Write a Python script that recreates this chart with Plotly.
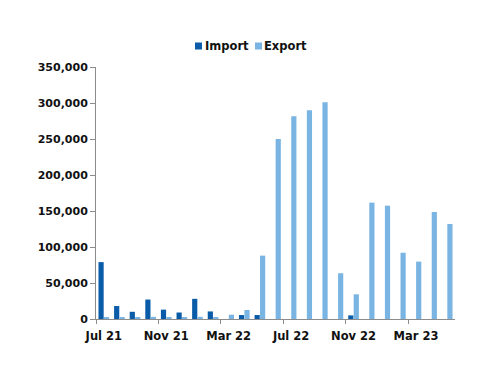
import plotly.graph_objects as go

months = ["Jul 21", "Aug 21", "Sep 21", "Oct 21", "Nov 21", "Dec 21",
          "Jan 22", "Feb 22", "Mar 22", "Apr 22", "May 22", "Jun 22",
          "Jul 22", "Aug 22", "Sep 22", "Oct 22", "Nov 22", "Dec 22",
          "Jan 23", "Feb 23", "Mar 23", "Apr 23", "May 23"]
imports = [79000, 18000, 10000, 27000, 13000, 9000, 28000, 10500, 0, 5500, 5500, 0,
           0, 0, 0, 0, 5000, 0, 0, 0, 0, 0, 0]
exports = [2500, 2500, 2500, 3000, 2500, 2500, 3000, 1500, 6000, 12500, 88000, 250000,
           281500, 290000, 301000, 63500, 34300, 161600, 157400, 92000, 79700, 148600, 132000]
tick_labels = months[::4]
y_ticks = [0, 50000, 100000, 150000, 200000, 250000, 300000, 350000]
series_names = ["Import", "Export"]
series_colors = ["#0A5BA8", "#79B4E2"]

FONT = dict(family="DejaVu Sans", size=11.5, color="#111111")
YFONT = dict(family="DejaVu Sans", size=11, color="#111111")

fig = go.Figure()
for name, vals, col in zip(series_names, [imports, exports], series_colors):
    fig.add_trace(go.Bar(name=name, x=months, y=vals,
                         marker=dict(color=col, line=dict(width=0))))

n = len(months)
fig.add_trace(go.Scatter(x=[-0.5], y=[0], xaxis="x2", mode="markers",
                         marker=dict(opacity=0), showlegend=False, hoverinfo="skip"))

# custom legend (swatch + label) to match compact spacing
sw_x = [0.2758, 0.4429]
txt_x = [0.2980, 0.4630]
shapes = []
annots = []
for sx, tx, name, col in zip(sw_x, txt_x, series_names, series_colors):
    shapes.append(dict(type="rect", xref="paper", yref="paper",
                       x0=sx, x1=sx + 0.0195, y0=1.0694, y1=1.0972,
                       fillcolor=col, line=dict(width=0)))
    annots.append(dict(xref="paper", yref="paper", x=tx, y=1.0833,
                       xanchor="left", yanchor="middle", showarrow=False,
                       text=f"<b>{name}</b>", font=FONT))

fig.update_layout(
    width=500, height=386,
    margin=dict(l=88, r=53, t=59, b=75),
    paper_bgcolor="white", plot_bgcolor="white",
    barmode="group", bargap=0.3, bargroupgap=0.05,
    font=FONT,
    showlegend=False,
    shapes=shapes,
    annotations=annots,
    xaxis=dict(type="category", categoryorder="array", categoryarray=months,
               range=[-0.5, n - 0.5], tickmode="array", tickvals=tick_labels,
               ticktext=[f"<b>{t}</b>" for t in tick_labels],
               ticks="", ticklabelstandoff=6,
               showline=True, linecolor="#8c8c8c", linewidth=1,
               showgrid=False, zeroline=False, tickfont=FONT),
    xaxis2=dict(overlaying="x", range=[-0.5, n - 0.5], tickmode="array",
                tickvals=[i - 0.5 for i in range(0, n, 4)], showticklabels=False,
                ticks="outside", ticklen=4, tickcolor="#8c8c8c", showgrid=False,
                zeroline=False, showline=False),
    yaxis=dict(range=[0, 350000], tickmode="array", tickvals=y_ticks,
               ticktext=[f"<b>{v:,}</b>" for v in y_ticks],
               ticks="outside", ticklen=5, tickcolor="#8c8c8c",
               showline=True, linecolor="#8c8c8c", linewidth=1,
               showgrid=False, zeroline=False, tickfont=YFONT),
)

fig.write_html("out.html")
